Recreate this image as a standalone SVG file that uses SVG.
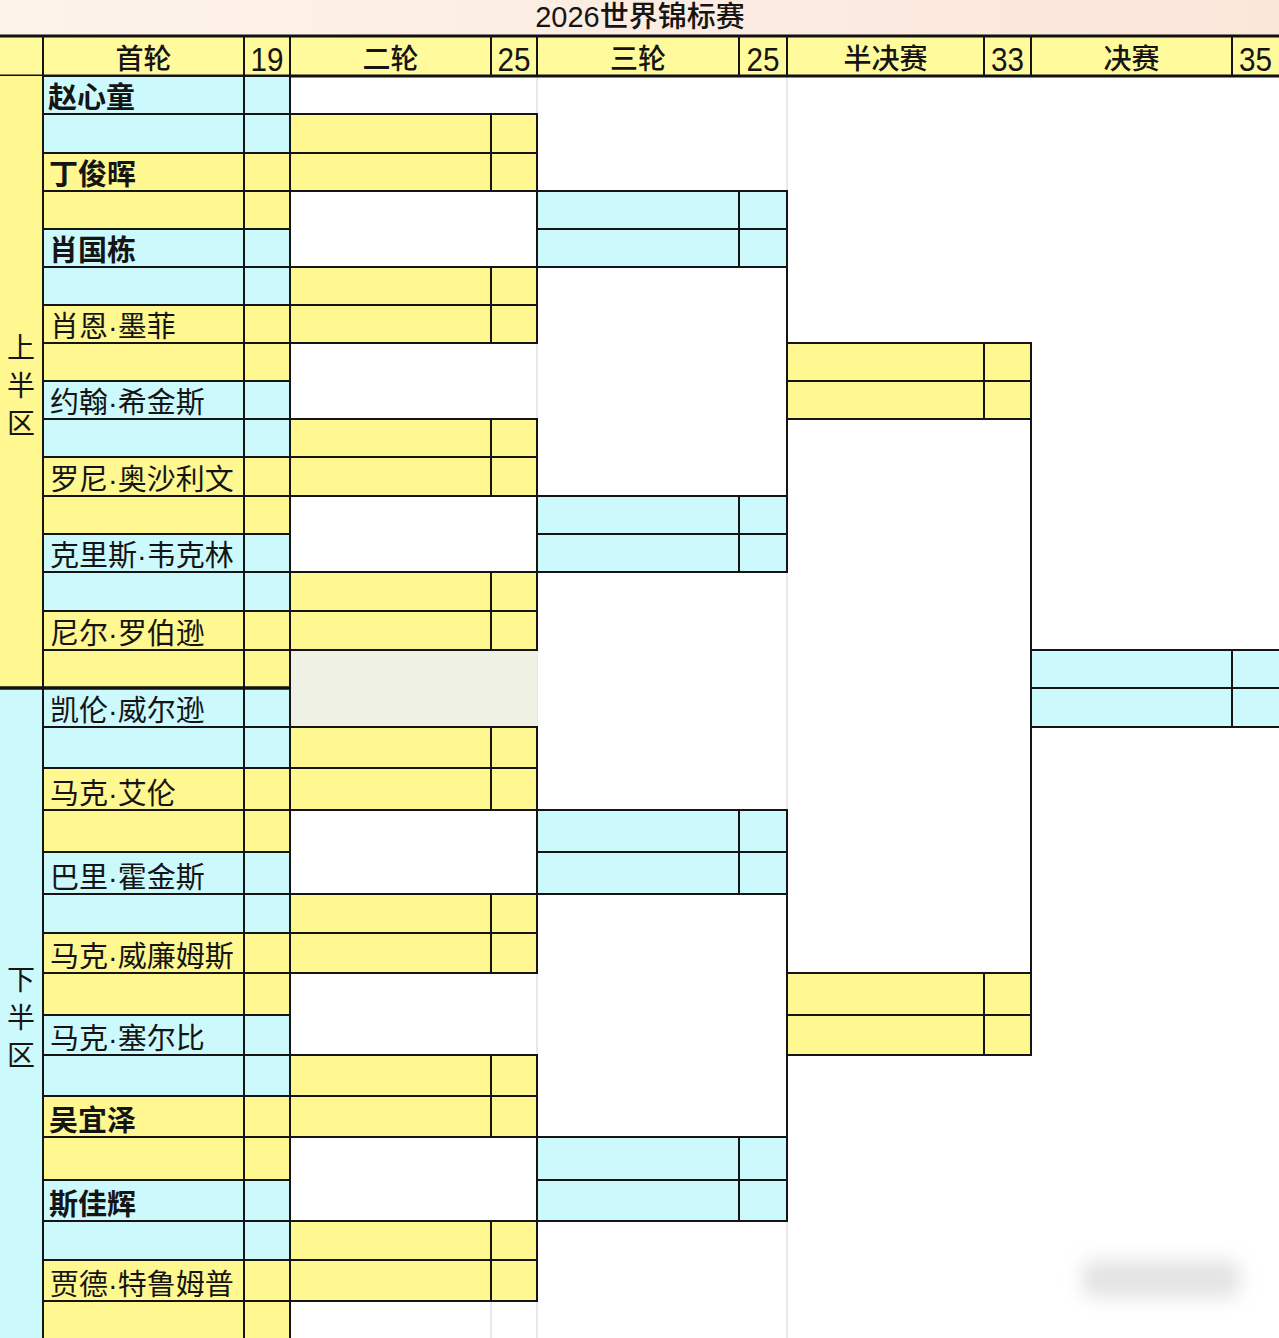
<svg xmlns="http://www.w3.org/2000/svg" width="1279" height="1338" viewBox="0 0 1279 1338">
<defs>
<linearGradient id="tg" x1="0" y1="0" x2="1" y2="0"><stop offset="0" stop-color="#FDF3EB"/><stop offset="1" stop-color="#FBE6DA"/></linearGradient>
<filter id="blur" x="-50%" y="-50%" width="200%" height="200%"><feGaussianBlur stdDeviation="9"/></filter>
<style>
.y{fill:#FFF78F}.c{fill:#CCF9FC}.hy{fill:#FFFA9C}
.b{fill:none;stroke:#151515;stroke-width:2}
.hb{fill:none;stroke:#111;stroke-width:3}
.g{stroke:#D4D4D4;stroke-width:1}
.cn{stroke:#151515;stroke-width:2;fill:none}
text{font-family:"Liberation Sans","Noto Sans CJK SC",sans-serif;fill:#151515}
.nm{font-size:29px}
.bd{font-weight:bold}
.hd{font-size:28px;text-anchor:middle;font-weight:500}
.num{font-size:33px;text-anchor:middle}
.lb{font-size:28px;text-anchor:middle}
</style>
</defs>
<rect width="1279" height="1338" fill="#FFFFFF"/>
<rect x="0" y="0" width="1279" height="35" fill="url(#tg)"/>
<text x="640" y="27" class="lb" style="font-size:29px;font-weight:500">2026世界锦标赛</text>
<!-- faint gridlines -->
<line class="g" x1="537" y1="76" x2="537" y2="1338"/>
<line class="g" x1="787" y1="76" x2="787" y2="1338"/>
<line class="g" x1="491" y1="1301" x2="491" y2="1338"/>
<rect x="290" y="650" width="247" height="77" fill="#EEF1E4"/>
<rect x="1082" y="1260" width="158" height="38" rx="12" fill="#E4E4E4" filter="url(#blur)"/>
<g id="header">
<rect x="0" y="36" width="1279" height="40" class="hy"/>
<line class="hb" x1="0" y1="36" x2="1279" y2="36"/>
<line class="hb" x1="0" y1="76" x2="1279" y2="76"/>
<g class="cn">
<line x1="43" y1="36" x2="43" y2="76"/><line x1="244" y1="36" x2="244" y2="76"/><line x1="290" y1="36" x2="290" y2="76"/>
<line x1="491" y1="36" x2="491" y2="76"/><line x1="537" y1="36" x2="537" y2="76"/><line x1="739" y1="36" x2="739" y2="76"/>
<line x1="787" y1="36" x2="787" y2="76"/><line x1="984" y1="36" x2="984" y2="76"/><line x1="1031" y1="36" x2="1031" y2="76"/>
<line x1="1232" y1="36" x2="1232" y2="76"/>
</g>
<text class="hd" x="143.5" y="69">首轮</text>
<text class="num" x="267" y="71" textLength="33" lengthAdjust="spacingAndGlyphs">19</text>
<text class="hd" x="390.5" y="69">二轮</text>
<text class="num" x="514" y="71" textLength="33" lengthAdjust="spacingAndGlyphs">25</text>
<text class="hd" x="638" y="69">三轮</text>
<text class="num" x="763" y="71" textLength="33" lengthAdjust="spacingAndGlyphs">25</text>
<text class="hd" x="885.5" y="69">半决赛</text>
<text class="num" x="1007.5" y="71" textLength="33" lengthAdjust="spacingAndGlyphs">33</text>
<text class="hd" x="1131.5" y="69">决赛</text>
<text class="num" x="1255.5" y="71" textLength="33" lengthAdjust="spacingAndGlyphs">35</text>
</g>
<g id="half-upper">
<rect x="0" y="76" width="43" height="612" class="y"/>
<text class="lb" x="21" y="358">上</text><text class="lb" x="21" y="396">半</text><text class="lb" x="21" y="434">区</text>
</g>
<g id="half-lower">
<rect x="0" y="688" width="43" height="650" class="c"/>
<text class="lb" x="21" y="990">下</text><text class="lb" x="21" y="1028">半</text><text class="lb" x="21" y="1066">区</text>
</g>
<g id="round1">
<g id="r1-0"><rect class="c" x="43" y="76" width="247" height="38"/><rect class="b" x="43" y="76" width="201" height="38"/><rect class="b" x="244" y="76" width="46" height="38"/><text class="nm bd" x="48" y="108">赵心童</text></g>
<g id="r1-1"><rect class="c" x="43" y="114" width="247" height="39"/><rect class="b" x="43" y="114" width="201" height="39"/><rect class="b" x="244" y="114" width="46" height="39"/></g>
<g id="r1-2"><rect class="y" x="43" y="153" width="247" height="38"/><rect class="b" x="43" y="153" width="201" height="38"/><rect class="b" x="244" y="153" width="46" height="38"/><text class="nm bd" x="49" y="185">丁俊晖</text></g>
<g id="r1-3"><rect class="y" x="43" y="191" width="247" height="38"/><rect class="b" x="43" y="191" width="201" height="38"/><rect class="b" x="244" y="191" width="46" height="38"/></g>
<g id="r1-4"><rect class="c" x="43" y="229" width="247" height="38"/><rect class="b" x="43" y="229" width="201" height="38"/><rect class="b" x="244" y="229" width="46" height="38"/><text class="nm bd" x="49" y="261">肖国栋</text></g>
<g id="r1-5"><rect class="c" x="43" y="267" width="247" height="38"/><rect class="b" x="43" y="267" width="201" height="38"/><rect class="b" x="244" y="267" width="46" height="38"/></g>
<g id="r1-6"><rect class="y" x="43" y="305" width="247" height="38"/><rect class="b" x="43" y="305" width="201" height="38"/><rect class="b" x="244" y="305" width="46" height="38"/><text class="nm" x="50" y="337">肖恩·墨菲</text></g>
<g id="r1-7"><rect class="y" x="43" y="343" width="247" height="38"/><rect class="b" x="43" y="343" width="201" height="38"/><rect class="b" x="244" y="343" width="46" height="38"/></g>
<g id="r1-8"><rect class="c" x="43" y="381" width="247" height="38"/><rect class="b" x="43" y="381" width="201" height="38"/><rect class="b" x="244" y="381" width="46" height="38"/><text class="nm" x="50" y="413">约翰·希金斯</text></g>
<g id="r1-9"><rect class="c" x="43" y="419" width="247" height="38"/><rect class="b" x="43" y="419" width="201" height="38"/><rect class="b" x="244" y="419" width="46" height="38"/></g>
<g id="r1-10"><rect class="y" x="43" y="457" width="247" height="39"/><rect class="b" x="43" y="457" width="201" height="39"/><rect class="b" x="244" y="457" width="46" height="39"/><text class="nm" x="50" y="490">罗尼·奥沙利文</text></g>
<g id="r1-11"><rect class="y" x="43" y="496" width="247" height="38"/><rect class="b" x="43" y="496" width="201" height="38"/><rect class="b" x="244" y="496" width="46" height="38"/></g>
<g id="r1-12"><rect class="c" x="43" y="534" width="247" height="38"/><rect class="b" x="43" y="534" width="201" height="38"/><rect class="b" x="244" y="534" width="46" height="38"/><text class="nm" x="50" y="566">克里斯·韦克林</text></g>
<g id="r1-13"><rect class="c" x="43" y="572" width="247" height="39"/><rect class="b" x="43" y="572" width="201" height="39"/><rect class="b" x="244" y="572" width="46" height="39"/></g>
<g id="r1-14"><rect class="y" x="43" y="611" width="247" height="39"/><rect class="b" x="43" y="611" width="201" height="39"/><rect class="b" x="244" y="611" width="46" height="39"/><text class="nm" x="50" y="644">尼尔·罗伯逊</text></g>
<g id="r1-15"><rect class="y" x="43" y="650" width="247" height="38"/><rect class="b" x="43" y="650" width="201" height="38"/><rect class="b" x="244" y="650" width="46" height="38"/></g>
<g id="r1-16"><rect class="c" x="43" y="688" width="247" height="39"/><rect class="b" x="43" y="688" width="201" height="39"/><rect class="b" x="244" y="688" width="46" height="39"/><text class="nm" x="50" y="721">凯伦·威尔逊</text></g>
<g id="r1-17"><rect class="c" x="43" y="727" width="247" height="41"/><rect class="b" x="43" y="727" width="201" height="41"/><rect class="b" x="244" y="727" width="46" height="41"/></g>
<g id="r1-18"><rect class="y" x="43" y="768" width="247" height="42"/><rect class="b" x="43" y="768" width="201" height="42"/><rect class="b" x="244" y="768" width="46" height="42"/><text class="nm" x="50" y="804">马克·艾伦</text></g>
<g id="r1-19"><rect class="y" x="43" y="810" width="247" height="42"/><rect class="b" x="43" y="810" width="201" height="42"/><rect class="b" x="244" y="810" width="46" height="42"/></g>
<g id="r1-20"><rect class="c" x="43" y="852" width="247" height="42"/><rect class="b" x="43" y="852" width="201" height="42"/><rect class="b" x="244" y="852" width="46" height="42"/><text class="nm" x="50" y="888">巴里·霍金斯</text></g>
<g id="r1-21"><rect class="c" x="43" y="894" width="247" height="39"/><rect class="b" x="43" y="894" width="201" height="39"/><rect class="b" x="244" y="894" width="46" height="39"/></g>
<g id="r1-22"><rect class="y" x="43" y="933" width="247" height="40"/><rect class="b" x="43" y="933" width="201" height="40"/><rect class="b" x="244" y="933" width="46" height="40"/><text class="nm" x="50" y="967">马克·威廉姆斯</text></g>
<g id="r1-23"><rect class="y" x="43" y="973" width="247" height="42"/><rect class="b" x="43" y="973" width="201" height="42"/><rect class="b" x="244" y="973" width="46" height="42"/></g>
<g id="r1-24"><rect class="c" x="43" y="1015" width="247" height="40"/><rect class="b" x="43" y="1015" width="201" height="40"/><rect class="b" x="244" y="1015" width="46" height="40"/><text class="nm" x="50" y="1049">马克·塞尔比</text></g>
<g id="r1-25"><rect class="c" x="43" y="1055" width="247" height="41"/><rect class="b" x="43" y="1055" width="201" height="41"/><rect class="b" x="244" y="1055" width="46" height="41"/></g>
<g id="r1-26"><rect class="y" x="43" y="1096" width="247" height="41"/><rect class="b" x="43" y="1096" width="201" height="41"/><rect class="b" x="244" y="1096" width="46" height="41"/><text class="nm bd" x="49" y="1131">吴宜泽</text></g>
<g id="r1-27"><rect class="y" x="43" y="1137" width="247" height="43"/><rect class="b" x="43" y="1137" width="201" height="43"/><rect class="b" x="244" y="1137" width="46" height="43"/></g>
<g id="r1-28"><rect class="c" x="43" y="1180" width="247" height="41"/><rect class="b" x="43" y="1180" width="201" height="41"/><rect class="b" x="244" y="1180" width="46" height="41"/><text class="nm bd" x="49" y="1215">斯佳辉</text></g>
<g id="r1-29"><rect class="c" x="43" y="1221" width="247" height="39"/><rect class="b" x="43" y="1221" width="201" height="39"/><rect class="b" x="244" y="1221" width="46" height="39"/></g>
<g id="r1-30"><rect class="y" x="43" y="1260" width="247" height="41"/><rect class="b" x="43" y="1260" width="201" height="41"/><rect class="b" x="244" y="1260" width="46" height="41"/><text class="nm" x="50" y="1295">贾德·特鲁姆普</text></g>
<g id="r1-31"><rect class="y" x="43" y="1301" width="247" height="44"/><rect class="b" x="43" y="1301" width="201" height="44"/><rect class="b" x="244" y="1301" width="46" height="44"/></g>
</g>
<line x1="0" y1="688" x2="290" y2="688" stroke="#111" stroke-width="3.5"/>
<g id="round2">
<g id="r2-0"><rect class="y" x="290" y="114" width="247" height="77"/><rect class="b" x="290" y="114" width="201" height="39"/><rect class="b" x="491" y="114" width="46" height="39"/><rect class="b" x="290" y="153" width="201" height="38"/><rect class="b" x="491" y="153" width="46" height="38"/></g>
<g id="r2-1"><rect class="y" x="290" y="267" width="247" height="76"/><rect class="b" x="290" y="267" width="201" height="38"/><rect class="b" x="491" y="267" width="46" height="38"/><rect class="b" x="290" y="305" width="201" height="38"/><rect class="b" x="491" y="305" width="46" height="38"/></g>
<g id="r2-2"><rect class="y" x="290" y="419" width="247" height="77"/><rect class="b" x="290" y="419" width="201" height="38"/><rect class="b" x="491" y="419" width="46" height="38"/><rect class="b" x="290" y="457" width="201" height="39"/><rect class="b" x="491" y="457" width="46" height="39"/></g>
<g id="r2-3"><rect class="y" x="290" y="572" width="247" height="78"/><rect class="b" x="290" y="572" width="201" height="39"/><rect class="b" x="491" y="572" width="46" height="39"/><rect class="b" x="290" y="611" width="201" height="39"/><rect class="b" x="491" y="611" width="46" height="39"/></g>
<g id="r2-4"><rect class="y" x="290" y="727" width="247" height="83"/><rect class="b" x="290" y="727" width="201" height="41"/><rect class="b" x="491" y="727" width="46" height="41"/><rect class="b" x="290" y="768" width="201" height="42"/><rect class="b" x="491" y="768" width="46" height="42"/></g>
<g id="r2-5"><rect class="y" x="290" y="894" width="247" height="79"/><rect class="b" x="290" y="894" width="201" height="39"/><rect class="b" x="491" y="894" width="46" height="39"/><rect class="b" x="290" y="933" width="201" height="40"/><rect class="b" x="491" y="933" width="46" height="40"/></g>
<g id="r2-6"><rect class="y" x="290" y="1055" width="247" height="82"/><rect class="b" x="290" y="1055" width="201" height="41"/><rect class="b" x="491" y="1055" width="46" height="41"/><rect class="b" x="290" y="1096" width="201" height="41"/><rect class="b" x="491" y="1096" width="46" height="41"/></g>
<g id="r2-7"><rect class="y" x="290" y="1221" width="247" height="80"/><rect class="b" x="290" y="1221" width="201" height="39"/><rect class="b" x="491" y="1221" width="46" height="39"/><rect class="b" x="290" y="1260" width="201" height="41"/><rect class="b" x="491" y="1260" width="46" height="41"/></g>
</g>
<g id="round3">
<g id="r3-0"><rect class="c" x="537" y="191" width="250" height="76"/><rect class="b" x="537" y="191" width="202" height="38"/><rect class="b" x="739" y="191" width="48" height="38"/><rect class="b" x="537" y="229" width="202" height="38"/><rect class="b" x="739" y="229" width="48" height="38"/></g>
<g id="r3-1"><rect class="c" x="537" y="496" width="250" height="76"/><rect class="b" x="537" y="496" width="202" height="38"/><rect class="b" x="739" y="496" width="48" height="38"/><rect class="b" x="537" y="534" width="202" height="38"/><rect class="b" x="739" y="534" width="48" height="38"/></g>
<g id="r3-2"><rect class="c" x="537" y="810" width="250" height="84"/><rect class="b" x="537" y="810" width="202" height="42"/><rect class="b" x="739" y="810" width="48" height="42"/><rect class="b" x="537" y="852" width="202" height="42"/><rect class="b" x="739" y="852" width="48" height="42"/></g>
<g id="r3-3"><rect class="c" x="537" y="1137" width="250" height="84"/><rect class="b" x="537" y="1137" width="202" height="43"/><rect class="b" x="739" y="1137" width="48" height="43"/><rect class="b" x="537" y="1180" width="202" height="41"/><rect class="b" x="739" y="1180" width="48" height="41"/></g>
</g>
<g id="semifinal">
<g id="sf-0"><rect class="y" x="787" y="343" width="244" height="76"/><rect class="b" x="787" y="343" width="197" height="38"/><rect class="b" x="984" y="343" width="47" height="38"/><rect class="b" x="787" y="381" width="197" height="38"/><rect class="b" x="984" y="381" width="47" height="38"/></g>
<g id="sf-1"><rect class="y" x="787" y="973" width="244" height="82"/><rect class="b" x="787" y="973" width="197" height="42"/><rect class="b" x="984" y="973" width="47" height="42"/><rect class="b" x="787" y="1015" width="197" height="40"/><rect class="b" x="984" y="1015" width="47" height="40"/></g>
</g>
<g id="final">
<rect class="c" x="1031" y="650" width="250" height="77"/><rect class="b" x="1031" y="650" width="201" height="38"/><rect class="b" x="1232" y="650" width="49" height="38"/><rect class="b" x="1031" y="688" width="201" height="39"/><rect class="b" x="1232" y="688" width="49" height="39"/>
</g>
<g id="connectors" class="cn">
<line x1="537" y1="191" x2="537" y2="267"/>
<line x1="537" y1="496" x2="537" y2="572"/>
<line x1="537" y1="810" x2="537" y2="894"/>
<line x1="537" y1="1137" x2="537" y2="1221"/>
<line x1="787" y1="267" x2="787" y2="343"/>
<line x1="787" y1="419" x2="787" y2="496"/>
<line x1="787" y1="894" x2="787" y2="973"/>
<line x1="787" y1="1055" x2="787" y2="1137"/>
<line x1="1031" y1="419" x2="1031" y2="650"/>
<line x1="1031" y1="727" x2="1031" y2="973"/>
</g>
</svg>
